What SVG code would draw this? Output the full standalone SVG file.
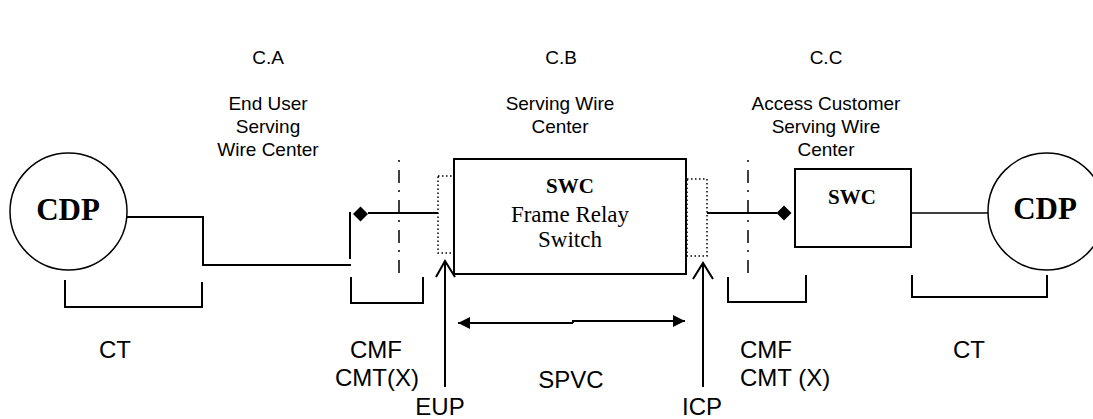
<svg xmlns="http://www.w3.org/2000/svg" width="1093" height="419" viewBox="0 0 1093 419">
<style>
.lbl{font-family:"Liberation Sans",Arial,sans-serif;font-size:19px;fill:#000}
.big{font-size:24px}
.mid{text-anchor:middle}
.tb{font-family:"Liberation Serif","Times New Roman",serif;fill:#000;text-anchor:middle}
.ln{stroke:#000;stroke-width:2;fill:none}
.thin{stroke:#000;stroke-width:1.5;fill:none}
.dot{stroke:#000;stroke-width:1.5;fill:none;stroke-dasharray:1.5 2.5}
.dd{stroke:#000;stroke-width:1.5;fill:none;stroke-dasharray:13 7 2 8;stroke-dashoffset:18}
</style>
<defs>
<marker id="tri" viewBox="0 0 10 10" refX="10" refY="5" markerWidth="16" markerHeight="12" markerUnits="userSpaceOnUse" orient="auto"><path d="M0,0 L10,5 L0,10 Z" fill="#000"/></marker>
</defs>
<rect width="1093" height="419" fill="#fff"/>

<g id="headings">
<text class="lbl mid" x="268" y="64">C.A</text>
<text class="lbl mid" x="561" y="64">C.B</text>
<text class="lbl mid" x="826" y="64">C.C</text>
<text class="lbl mid" x="268" y="110">End User</text>
<text class="lbl mid" x="268" y="133">Serving</text>
<text class="lbl mid" x="268" y="156">Wire Center</text>
<text class="lbl mid" x="560" y="110">Serving Wire</text>
<text class="lbl mid" x="560" y="133">Center</text>
<text class="lbl mid" x="826" y="110">Access Customer</text>
<text class="lbl mid" x="826" y="133">Serving Wire</text>
<text class="lbl mid" x="826" y="156">Center</text>
</g>

<g id="cdp-left">
<circle class="thin" cx="68.5" cy="211.5" r="58.5"/>
<text class="tb" x="68" y="220" font-size="31" font-weight="bold">CDP</text>
</g>

<g id="swc-main">
<rect class="ln" x="454" y="159" width="232" height="115"/>
<text class="tb" x="570" y="193" font-size="21" font-weight="bold">SWC</text>
<text class="tb" x="570" y="222" font-size="23">Frame Relay</text>
<text class="tb" x="570" y="247" font-size="23">Switch</text>
</g>

<g id="eup-port"><rect class="dot" x="438" y="176" width="16" height="77"/></g>
<g id="icp-port"><rect class="dot" x="687" y="179" width="20" height="77"/></g>

<g id="swc-small">
<rect class="ln" x="795" y="169" width="116" height="78"/>
<text class="tb" x="852" y="204" font-size="21" font-weight="bold">SWC</text>
</g>

<g id="cdp-right">
<circle class="thin" cx="1046.5" cy="211.5" r="58.5"/>
<text class="tb" x="1045" y="219" font-size="31" font-weight="bold">CDP</text>
</g>

<g id="connectors">
<polyline class="ln" points="127,217 203,217 203,265 351,265"/>
<line class="ln" x1="350" y1="212" x2="350" y2="259"/>
<line class="ln" x1="368" y1="213" x2="438" y2="213"/>
<path d="M353,214 L360.5,206.5 L368,214 L360.5,221.5 Z" fill="#000"/>
<line class="ln" x1="707" y1="213" x2="777" y2="213"/>
<path d="M776.5,213 L784,205.5 L791.5,213 L784,220.5 Z" fill="#000"/>
<line class="thin" x1="911" y1="213" x2="988" y2="213"/>
<line class="dd" x1="399" y1="158" x2="399" y2="275"/>
<line class="dd" x1="748" y1="158" x2="748" y2="275"/>
<polyline class="ln" points="65,280 65,307 202,307 202,282"/>
<polyline class="ln" points="351,277 351,303 423,303 423,277"/>
<polyline class="ln" points="728,277 728,302 806,302 806,275"/>
<polyline class="ln" points="912,275 912,297 1047,297 1047,275"/>
<line class="ln" x1="445" y1="261" x2="445" y2="387" stroke-width="2.5"/>
<polyline class="ln" points="436,277 445,261 455,277" stroke-width="2.5"/>
<line class="ln" x1="703" y1="263" x2="703" y2="387" stroke-width="2.5"/>
<polyline class="ln" points="693,279 703,263 713,279" stroke-width="2.5"/>
<polyline class="ln" points="573,323 458,323" marker-end="url(#tri)"/>
<polyline class="ln" points="573,323 573,321 685,321" marker-end="url(#tri)"/>
</g>

<g id="bottom-labels">
<text class="lbl big mid" x="115" y="358">CT</text>
<text class="lbl big mid" x="376" y="358">CMF</text>
<text class="lbl big mid" x="377" y="386">CMT(X)</text>
<text class="lbl big mid" x="440" y="415">EUP</text>
<text class="lbl big mid" x="571" y="388">SPVC</text>
<text class="lbl big mid" x="702" y="415">ICP</text>
<text class="lbl big" x="740" y="358">CMF</text>
<text class="lbl big" x="740" y="386">CMT (X)</text>
<text class="lbl big mid" x="969" y="358">CT</text>
</g>
</svg>
